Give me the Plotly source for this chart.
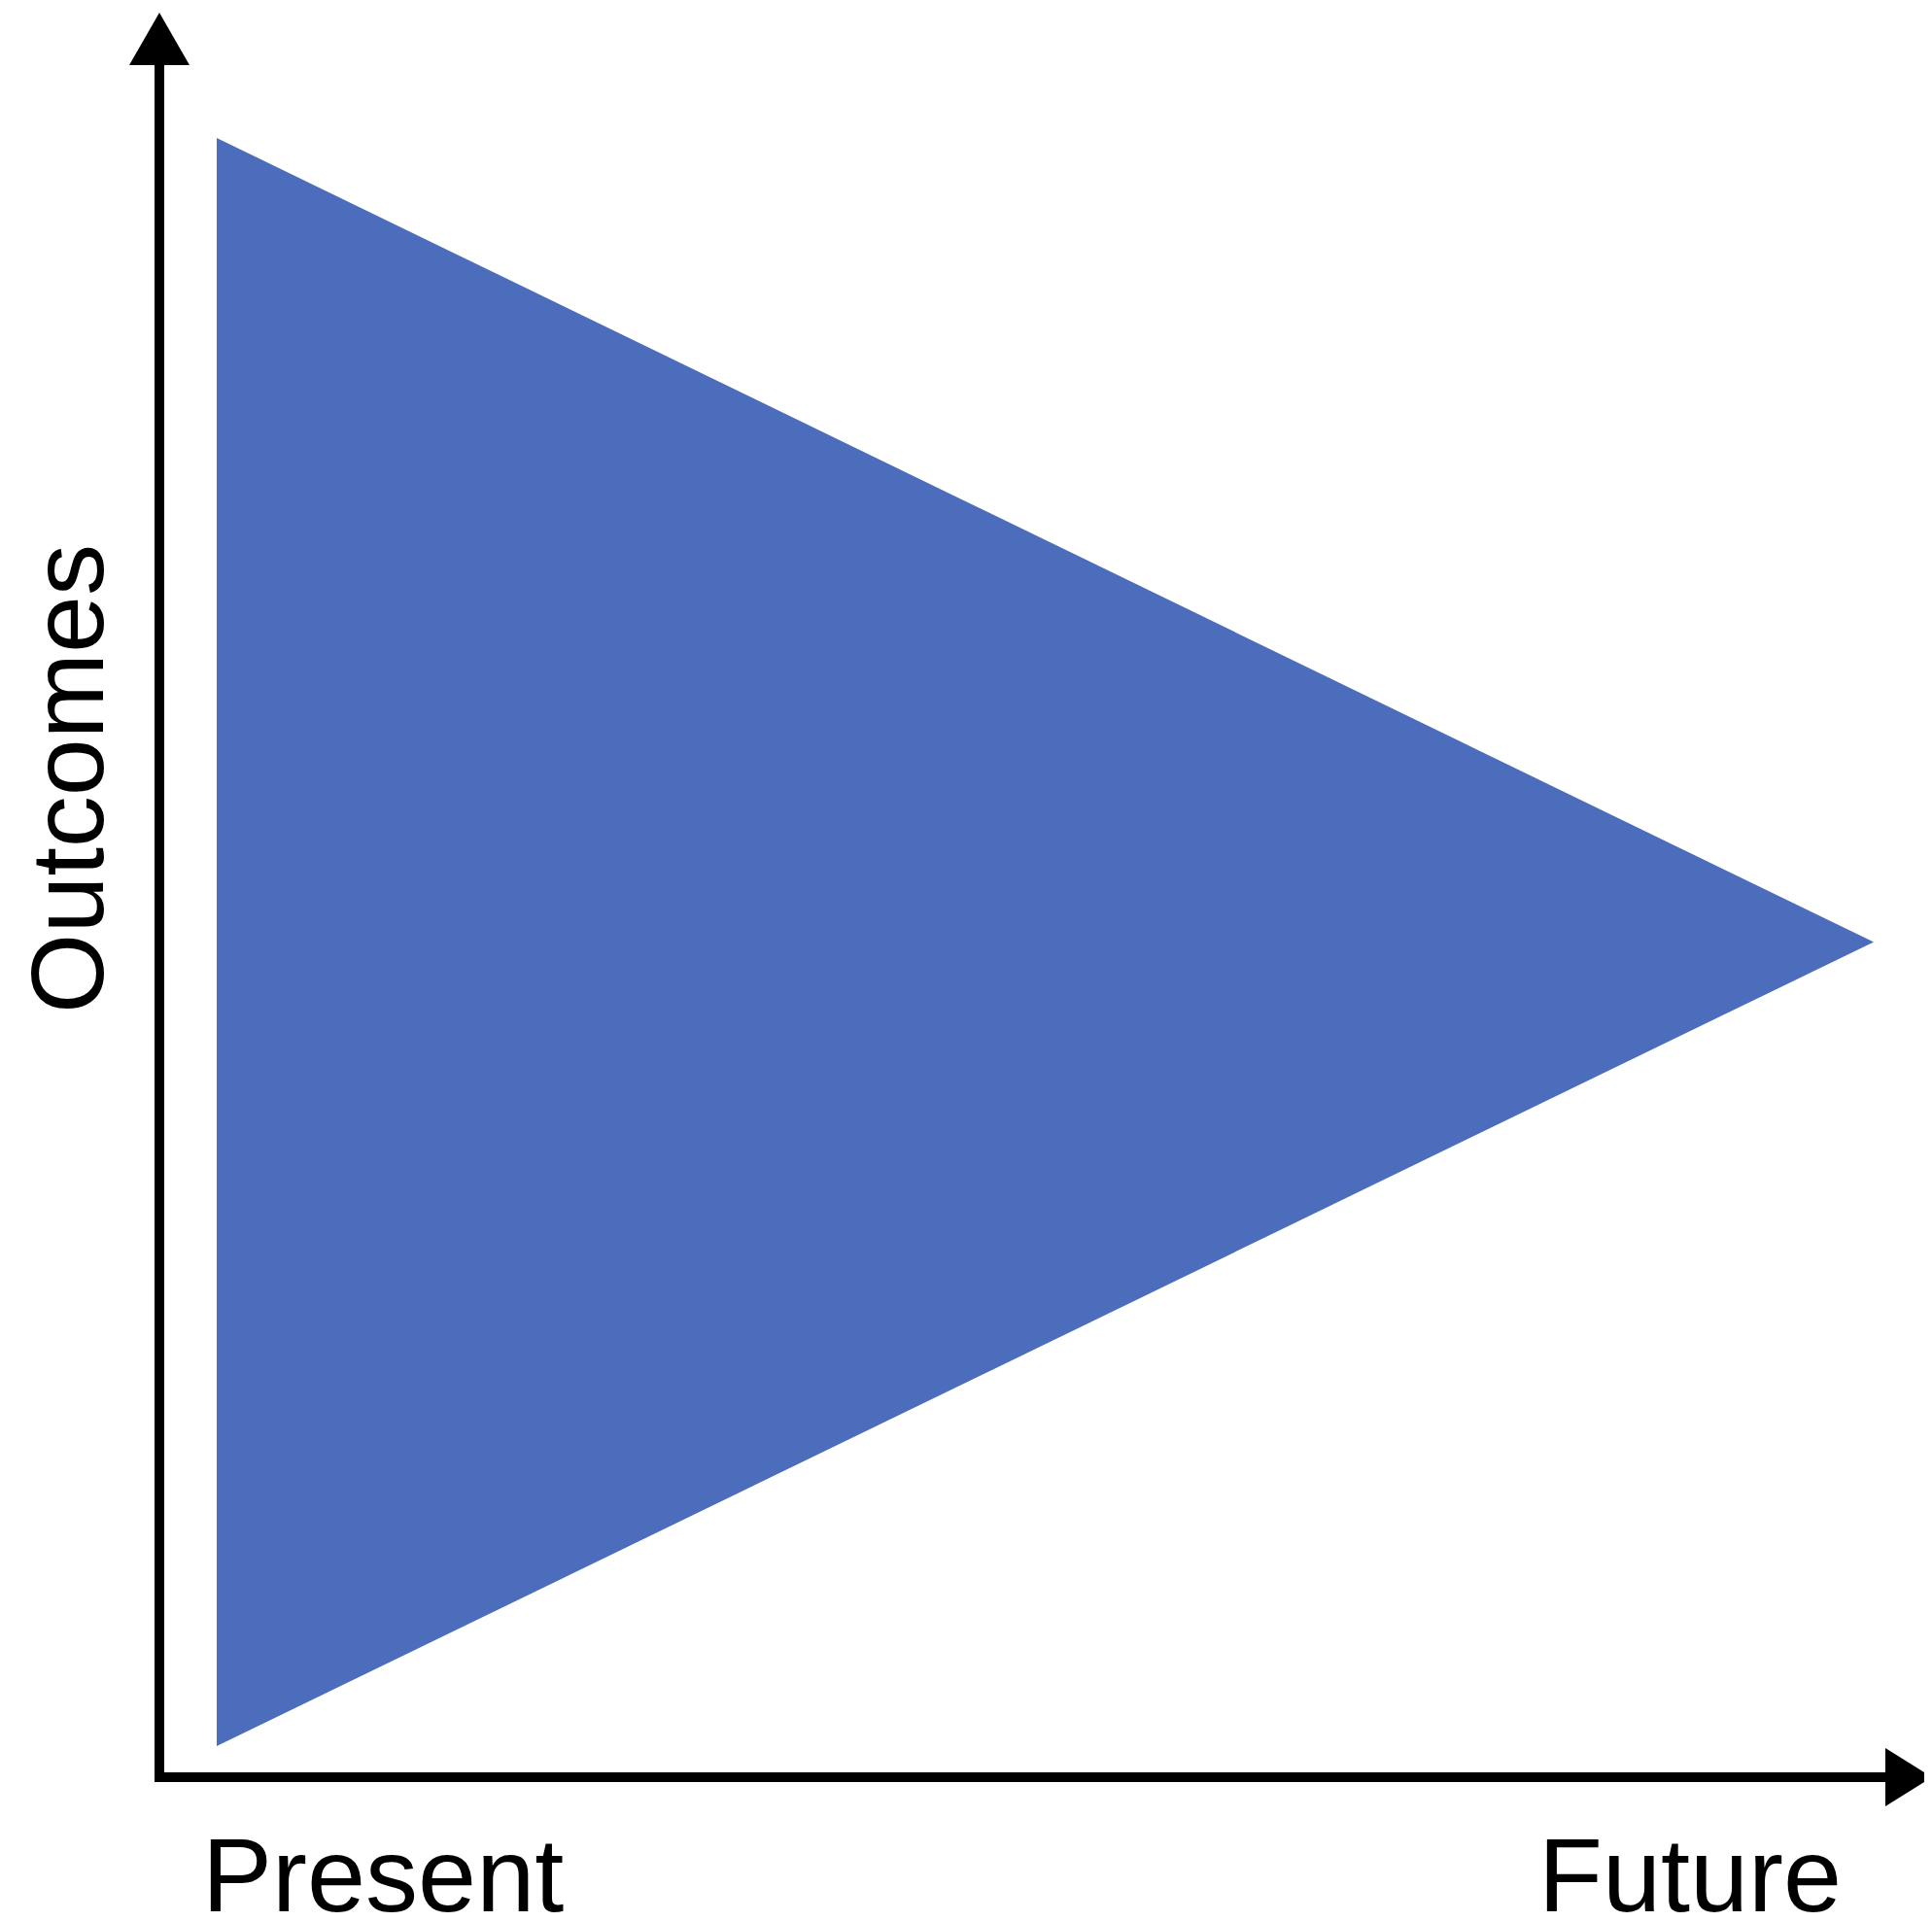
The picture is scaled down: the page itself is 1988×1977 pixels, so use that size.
import plotly.graph_objects as go

# Data: the outcome cone (present -> future)
time_x = [0.0, 0.0, 1.0, 0.0]
outcome_y = [1.0, -1.0, 0.0, 1.0]
x_label_text = ["Present", "Future"]
y_label_text = "Outcomes"

# The page body has an 8px margin, so the figure is 16px smaller than the window
OFF = 8
W, H = 1988 - 2 * OFF, 1977 - 2 * OFF
FONT = "Liberation Sans, Arial, Helvetica, sans-serif"


def px(x):
    # page pixel -> paper fraction
    return (x - OFF) / W


def py(y):
    return 1 - (y - OFF) / H


fig = go.Figure()
fig.add_trace(go.Scatter(
    x=time_x, y=outcome_y, mode="lines", fill="toself",
    fillcolor="#4C6DBB", line=dict(color="#4C6DBB", width=0),
    hoverinfo="skip", showlegend=False,
))

shapes = []
# y axis line
shapes.append(dict(type="line", xref="paper", yref="paper",
                   x0=px(164), x1=px(164), y0=py(1834), y1=py(60),
                   line=dict(color="black", width=10)))
# x axis line
shapes.append(dict(type="line", xref="paper", yref="paper",
                   x0=px(159), x1=px(1945), y0=py(1829), y1=py(1829),
                   line=dict(color="black", width=10)))
# arrowheads
shapes.append(dict(type="path", xref="paper", yref="paper",
                   path=f"M {px(133)} {py(67)} L {px(164)} {py(13)} L {px(195)} {py(67)} Z",
                   fillcolor="black", line=dict(color="black", width=0)))
shapes.append(dict(type="path", xref="paper", yref="paper",
                   path=f"M {px(1940)} {py(1799)} L {px(1988)} {py(1829)} L {px(1940)} {py(1859)} Z",
                   fillcolor="black", line=dict(color="black", width=0)))

annotations = [
    dict(text=x_label_text[0], xref="paper", yref="paper", x=px(206), y=py(1929),
         xanchor="left", yanchor="middle", showarrow=False,
         font=dict(family=FONT, size=108, color="black")),
    dict(text=x_label_text[1], xref="paper", yref="paper", x=px(1739), y=py(1929),
         xanchor="center", yanchor="middle", showarrow=False,
         font=dict(family=FONT, size=108, color="black")),
    dict(text=y_label_text, xref="paper", yref="paper", x=px(69), y=py(802),
         xanchor="center", yanchor="middle", showarrow=False, textangle=-90,
         font=dict(family=FONT, size=106, color="black")),
]

# axis ranges so that x=0 -> page px 223, x=1 -> 1928; y=1 -> 142, y=-1 -> 1797
sx = (1928 - 223)
sy = (1797 - 142) / 2
x_lo = -(223 - OFF) / sx
x_hi = (W + OFF - 223) / sx
y_hi = 1 + (142 - OFF) / sy
y_lo = -1 - (H + OFF - 1797) / sy

fig.update_layout(
    width=W, height=H,
    margin=dict(l=0, r=0, t=0, b=0),
    paper_bgcolor="white", plot_bgcolor="white",
    xaxis=dict(range=[x_lo, x_hi], visible=False, fixedrange=True),
    yaxis=dict(range=[y_lo, y_hi], visible=False, fixedrange=True),
    shapes=shapes, annotations=annotations,
)

fig.write_html("out.html")
